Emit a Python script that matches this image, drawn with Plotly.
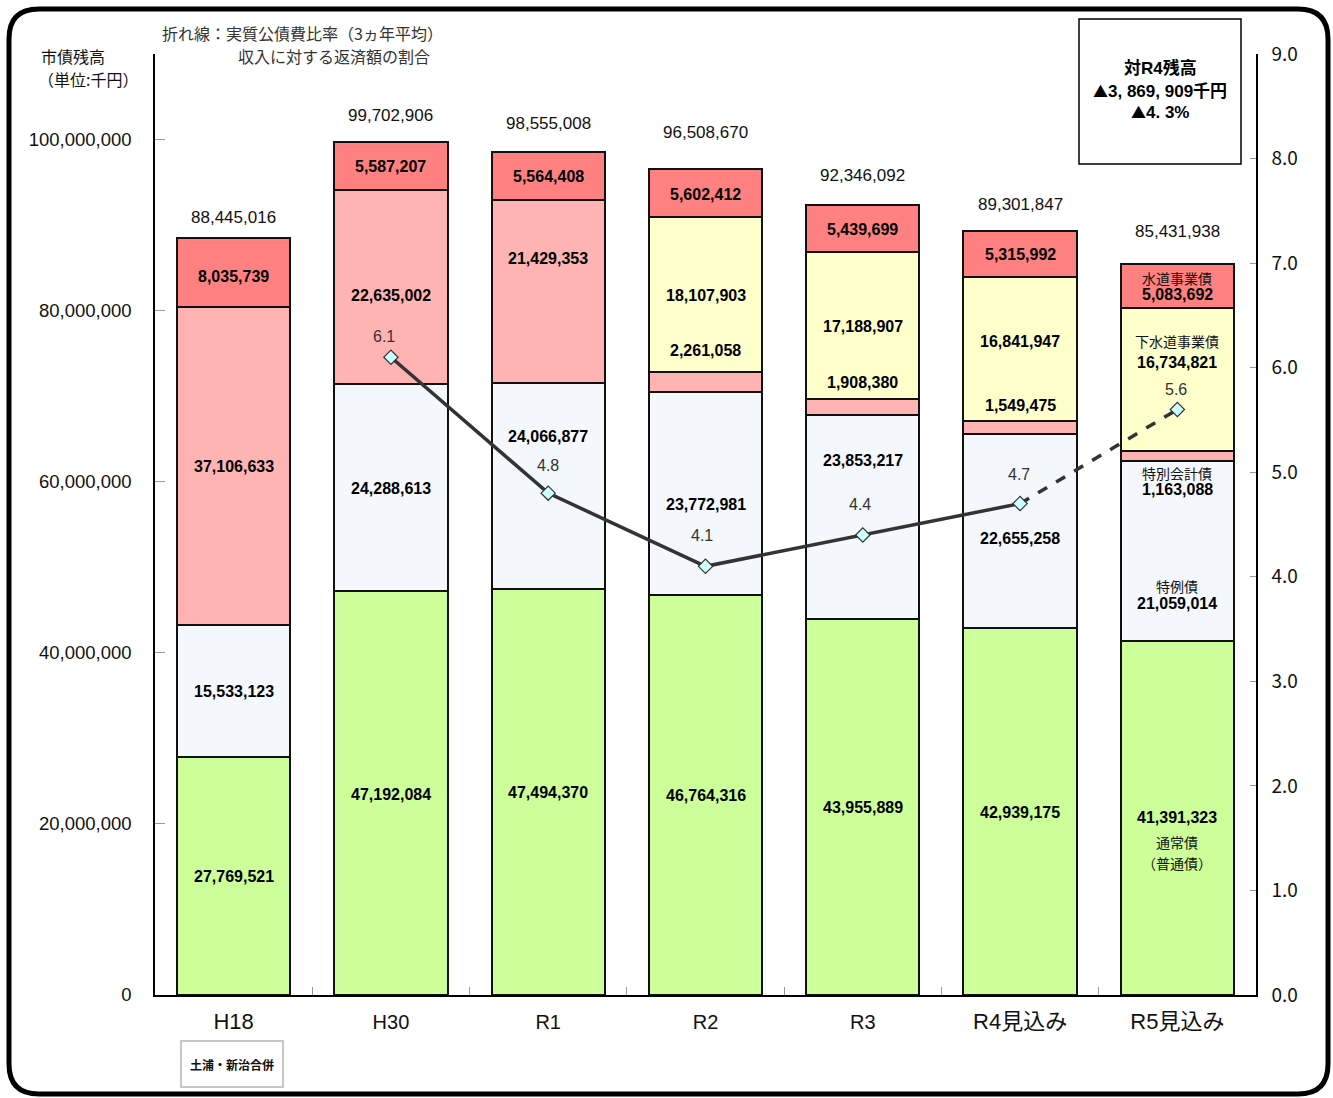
import plotly.graph_objects as go

# ---- data (thousand yen) ----
categories = ["H18", "H30", "R1", "R2", "R3", "R4見込み", "R5見込み"]
regular_bonds = [27769521, 47192084, 47494370, 46764316, 43955889, 42939175, 41391323]   # 通常債（普通債）
special_bonds = [15533123, 24288613, 24066877, 23772981, 23853217, 22655258, 21059014]   # 特例債
special_account = [37106633, 22635002, 21429353, 2261058, 1908380, 1549475, 1163088]     # 特別会計債
sewer_bonds = [None, None, None, 18107903, 17188907, 16841947, 16734821]                 # 下水道事業債
water_bonds = [8035739, 5587207, 5564408, 5602412, 5439699, 5315992, 5083692]            # 水道事業債

ratio_categories = ["H30", "R1", "R2", "R3", "R4見込み", "R5見込み"]
ratio_values = [6.1, 4.8, 4.1, 4.4, 4.7, 5.6]   # 実質公債費比率（3ヵ年平均）

series = [
    ("通常債", regular_bonds, "#CCFF99"),
    ("特例債", special_bonds, "#F4F7FB"),
    ("特別会計債", special_account, "#FFB3B3"),
    ("下水道事業債", sewer_bonds, "#FFFFCC"),
    ("水道事業債", water_bonds, "#FF8080"),
]

# ---- layout geometry (pixels) ----
W, H = 1333, 1098
PL, PR, PT, PB = 155, 1256, 54, 995


def px(x):
    return (x - PL) / (PR - PL)


def py(y):
    return (PB - y) / (PB - PT)


NUM_FONT = "Liberation Sans, Noto Sans CJK JP, sans-serif"
JP_FONT = "Noto Sans CJK JP, Liberation Sans, sans-serif"

fig = go.Figure()

for name, vals, color in series:
    fig.add_trace(go.Bar(
        x=categories, y=vals, name=name,
        marker=dict(color=color, line=dict(color="#111111", width=2)),
        width=0.72, hoverinfo="skip", showlegend=False,
    ))

# ratio line: solid for actuals, dashed for the estimate
fig.add_trace(go.Scatter(
    x=ratio_categories[:5], y=ratio_values[:5], yaxis="y2", mode="lines",
    line=dict(color="#333333", width=3.5), showlegend=False, hoverinfo="skip",
))
fig.add_trace(go.Scatter(
    x=ratio_categories[4:], y=ratio_values[4:], yaxis="y2", mode="lines",
    line=dict(color="#333333", width=3.5, dash="dash"), showlegend=False, hoverinfo="skip",
))
fig.add_trace(go.Scatter(
    x=ratio_categories, y=ratio_values, yaxis="y2", mode="markers",
    marker=dict(symbol="diamond", size=11, color="#CCFFFF",
                line=dict(color="#333333", width=1.2)),
    showlegend=False, hoverinfo="skip",
))

annotations = []

# segment value labels (vertical nudges in px per segment)
shifts = {
    "通常債": [0, -1, -1, -1, -1, -1, 0],
    "特例債": [0, -1, 49, -11, 56, -8, -53],
    "特別会計債": [-1, -9, 33, 31, 24, 22, -34],
    "下水道事業債": [0, 0, 0, -1, -1, 7, 17],
    "水道事業債": [-4, -1, -1, -1, -1, -1, -9],
}
name_shifts = {
    "通常債": [(-24, "通常債"), (-45, "（普通債）")],
    "特例債": [(-35, "特例債")],
    "特別会計債": [(-17, "特別会計債")],
    "下水道事業債": [(38, "下水道事業債")],
    "水道事業債": [(8, "水道事業債")],
}

base = [0] * len(categories)
for name, vals, color in series:
    for i, cat in enumerate(categories):
        v = vals[i]
        if v is None:
            continue
        mid = base[i] + v / 2
        annotations.append(dict(
            x=cat, y=mid, xref="x", yref="y", text=f"{v:,}", showarrow=False,
            yshift=shifts[name][i], yanchor="middle",
            font=dict(family=NUM_FONT, size=16, color="#000000", weight="bold"),
        ))
        if i == len(categories) - 1:
            for dy, label in name_shifts[name]:
                annotations.append(dict(
                    x=cat, y=mid, xref="x", yref="y", text=label, showarrow=False,
                    yshift=dy, yanchor="middle",
                    font=dict(family=JP_FONT, size=14, color="#111111"),
                ))
        base[i] += v

# totals above bars
total_shifts = [21, 27, 28, 37, 30, 27, 33]
for i, cat in enumerate(categories):
    annotations.append(dict(
        x=cat, y=base[i], xref="x", yref="y", text=f"{base[i]:,}", showarrow=False,
        yshift=total_shifts[i], yanchor="middle",
        font=dict(family=NUM_FONT, size=17, color="#111111"),
    ))

# ratio labels
ratio_xshift = [-7, 0, -4, -3, -1, -1]
ratio_yshift = [21, 28, 31, 30, 29, 20]
for i, cat in enumerate(ratio_categories):
    annotations.append(dict(
        x=cat, y=ratio_values[i], xref="x", yref="y2", text=f"{ratio_values[i]:.1f}",
        showarrow=False, yshift=ratio_yshift[i], xshift=ratio_xshift[i], yanchor="middle",
        font=dict(family=NUM_FONT, size=16, color="#333333"),
    ))

# headings
annotations += [
    dict(x=px(160), y=py(33), xref="paper", yref="paper", xanchor="left", yanchor="middle",
         text="折れ線：実質公債費比率（3ヵ年平均）", showarrow=False,
         font=dict(family=JP_FONT, size=16, color="#333333")),
    dict(x=px(334), y=py(56), xref="paper", yref="paper", xanchor="center", yanchor="middle",
         text="収入に対する返済額の割合", showarrow=False,
         font=dict(family=JP_FONT, size=16, color="#333333")),
    dict(x=px(39), y=py(56), xref="paper", yref="paper", xanchor="left", yanchor="middle",
         text="市債残高", showarrow=False,
         font=dict(family=JP_FONT, size=16, color="#111111")),
    dict(x=px(36), y=py(79), xref="paper", yref="paper", xanchor="left", yanchor="middle",
         text="（単位:千円）", showarrow=False,
         font=dict(family=JP_FONT, size=16, color="#111111")),
    dict(x=px(232), y=py(1064), xref="paper", yref="paper", xanchor="center", yanchor="middle",
         text="土浦・新治合併", showarrow=False,
         font=dict(family=JP_FONT, size=12, color="#111111", weight="bold")),
]

# change versus R4 box (full-width triangle marks)
TRI = '<span style="font-family:\'Noto Sans CJK JP\';font-size:15px">▲</span>'
for text, ypix in [("対R4残高", 68), (TRI + "3, 869, 909千円", 90), (TRI + "4. 3%", 112)]:
    annotations.append(dict(
        x=px(1160), y=py(ypix), xref="paper", yref="paper", xanchor="center", yanchor="middle",
        text=text, showarrow=False,
        font=dict(family="Liberation Sans, Noto Sans CJK JP, sans-serif",
                  size=17, color="#000000", weight="bold"),
    ))


def rounded_path(x0, y0, x1, y1, r):
    pts = [
        ("M", [(x0 + r, y0)]), ("L", [(x1 - r, y0)]), ("Q", [(x1, y0), (x1, y0 + r)]),
        ("L", [(x1, y1 - r)]), ("Q", [(x1, y1), (x1 - r, y1)]), ("L", [(x0 + r, y1)]),
        ("Q", [(x0, y1), (x0, y1 - r)]), ("L", [(x0, y0 + r)]), ("Q", [(x0, y0), (x0 + r, y0)]),
    ]
    s = ""
    for cmd, coords in pts:
        s += cmd + " " + " ".join(f"{px(a):.5f},{py(b):.5f}" for a, b in coords) + " "
    return s + "Z"


shapes = [
    dict(type="path", xref="paper", yref="paper", path=rounded_path(9, 9, 1328, 1094, 30),
         line=dict(color="#000000", width=5), layer="above"),
    dict(type="rect", xref="paper", yref="paper", x0=px(1079), x1=px(1241), y0=py(164), y1=py(19),
         line=dict(color="#000000", width=1.5), fillcolor="#FFFFFF", layer="below"),
    dict(type="rect", xref="paper", yref="paper", x0=px(181), x1=px(283), y0=py(1087), y1=py(1041),
         line=dict(color="#C8C8C8", width=2), fillcolor="#FFFFFF", layer="below"),
]

# category labels: the merger year and the estimate years are set a little larger
large_labels = {"H18", "R4見込み", "R5見込み"}
tick_text = [
    f'<span style="font-size:22px">{c}</span>' if c in large_labels else c
    for c in categories
]

fig.update_layout(
    width=W, height=H,
    margin=dict(l=PL, r=W - PR, t=PT, b=H - PB, autoexpand=False),
    paper_bgcolor="#FFFFFF", plot_bgcolor="#FFFFFF",
    barmode="stack",
    font=dict(family=NUM_FONT, color="#111111"),
    annotations=annotations,
    shapes=shapes,
    xaxis=dict(
        type="category", range=[-0.5, 6.5], showline=True, linecolor="#000000", linewidth=1.5,
        tickvals=categories, ticktext=tick_text,
        ticks="inside", tickson="boundaries", ticklen=8, tickcolor="#999999",
        tickfont=dict(family=NUM_FONT, size=20, color="#111111"), ticklabelstandoff=8,
        showgrid=False, zeroline=False,
    ),
    yaxis=dict(
        range=[0, 110000000], tickvals=[0, 20000000, 40000000, 60000000, 80000000, 100000000],
        tickformat=",d", showline=True, linecolor="#000000", linewidth=1.5,
        ticks="inside", ticklen=10, tickcolor="#999999",
        tickfont=dict(family=NUM_FONT, size=18.5, color="#111111"), ticklabelstandoff=18,
        showgrid=False, zeroline=False,
    ),
    yaxis2=dict(
        overlaying="y", side="right", range=[0, 9], dtick=1, tickformat=".1f",
        showline=True, linecolor="#000000", linewidth=1.5,
        ticks="inside", ticklen=6, tickcolor="#999999",
        tickfont=dict(family=JP_FONT, size=19, color="#111111"), ticklabelstandoff=10,
        showgrid=False, zeroline=False,
    ),
)

fig.write_html("out.html")
